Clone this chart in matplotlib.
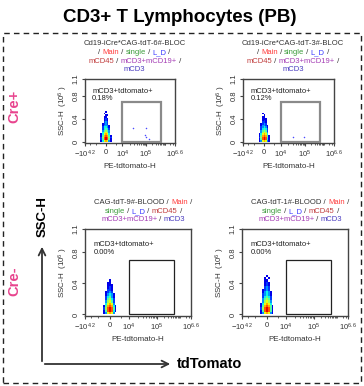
#CD3+ T lenfosit akim sitometrisi paneli (PB)
import numpy as np
import matplotlib
matplotlib.use("Agg")
import matplotlib.pyplot as plt
from matplotlib.patches import Rectangle, FancyArrowPatch
from matplotlib.offsetbox import TextArea, HPacker, VPacker, AnnotationBbox

plt.rcParams['font.family'] = ['Liberation Sans', 'DejaVu Sans']
plt.rcParams['mathtext.fontset'] = 'custom'
plt.rcParams['mathtext.rm'] = 'Liberation Sans'
plt.rcParams['mathtext.it'] = 'Liberation Sans:italic'

# data
x_ticks = [-10**4.2, 0, 1e4, 1e5, 10**6.6]
x_ticklabels = [r'$-10^{4.2}$', '0', r'$10^4$', r'$10^5$', r'$10^{6.6}$']
x_minor = [-1e4, -5e3, 5e3, 2e4, 3e4, 4e4, 5e4, 6e4, 7e4, 8e4, 9e4,
           2e5, 3e5, 4e5, 5e5, 6e5, 7e5, 8e5, 9e5, 1e6, 2e6, 3e6]
y_ticks = [0, 0.4, 0.8, 1.1]
y_ticklabels = ['0', '0.4', '0.8', '1.1']

gate_x = [1e4, 5.6e5]
gate_y = [0.005, 0.7]

samples = ['Cd19-iCre*CAG-tdT-6#-BLOC', 'Cd19-iCre*CAG-tdT-3#-BLOC',
           'CAG-tdT-9#-BLOOD', 'CAG-tdT-1#-BLOOD']
percent = ['0.18%', '0.12%', '0.00%', '0.00%']

# hucre yogunluklari (satirlar asagidan yukari, adim 0.03)
cloud_x_edges = [-2700, -1900, -1100, -350, 350, 1100, 1900, 2700]
cloud_y_edges = [0.00, 0.03, 0.06, 0.09, 0.12, 0.15, 0.18, 0.21, 0.24, 0.27,
                 0.30, 0.33, 0.36, 0.39, 0.42, 0.45, 0.48, 0.51, 0.54]
cloud_tl = [[1, 4, 7, 8, 7, 3, 1],
            [2, 5, 9, 10, 9, 5, 1],
            [2, 6, 9, 10, 9, 6, 2],
            [1, 5, 8, 9, 8, 5, 1],
            [1, 4, 7, 8, 7, 4, 0],
            [0, 4, 6, 7, 6, 3, 0],
            [0, 3, 5, 6, 5, 3, 0],
            [0, 2, 4, 5, 4, 2, 0],
            [0, 2, 4, 4, 3, 1, 0],
            [0, 1, 3, 3, 3, 1, 0],
            [0, 1, 2, 3, 2, 0, 0],
            [0, 0, 2, 3, 2, 0, 0],
            [0, 0, 1, 2, 1, 0, 0],
            [0, 0, 1, 2, 1, 0, 0],
            [0, 0, 1, 1, 0, 0, 0],
            [0, 0, 0, 1, 1, 0, 0],
            [0, 0, 1, 0, 0, 0, 0],
            [0, 0, 0, 1, 0, 0, 0]]
cloud_tr = [[1, 3, 7, 8, 7, 3, 1],
            [1, 5, 9, 10, 9, 4, 1],
            [2, 6, 9, 10, 9, 5, 1],
            [1, 5, 8, 9, 8, 5, 1],
            [1, 4, 7, 8, 7, 4, 0],
            [0, 3, 6, 7, 6, 3, 0],
            [0, 3, 5, 6, 5, 2, 0],
            [0, 2, 4, 5, 4, 2, 0],
            [0, 2, 3, 4, 3, 1, 0],
            [0, 1, 3, 3, 2, 1, 0],
            [0, 1, 2, 3, 2, 0, 0],
            [0, 0, 2, 2, 1, 0, 0],
            [0, 0, 1, 2, 1, 0, 0],
            [0, 0, 1, 1, 1, 0, 0],
            [0, 0, 1, 1, 0, 0, 0],
            [0, 0, 0, 1, 0, 0, 0],
            [0, 0, 1, 0, 0, 0, 0],
            [0, 0, 0, 0, 0, 0, 0]]
cloud_bl = [[1, 3, 7, 8, 7, 3, 0],
            [1, 5, 9, 10, 9, 4, 1],
            [2, 6, 9, 10, 9, 5, 1],
            [1, 5, 8, 9, 8, 4, 1],
            [0, 4, 7, 8, 7, 3, 0],
            [0, 3, 6, 7, 5, 2, 0],
            [0, 2, 5, 6, 4, 2, 0],
            [0, 2, 4, 5, 3, 1, 0],
            [0, 1, 3, 4, 3, 1, 0],
            [0, 1, 2, 3, 2, 0, 0],
            [0, 0, 2, 2, 1, 0, 0],
            [0, 0, 1, 2, 1, 0, 0],
            [0, 0, 1, 1, 1, 0, 0],
            [0, 0, 1, 1, 0, 0, 0],
            [0, 0, 0, 1, 0, 0, 0],
            [0, 0, 0, 0, 0, 0, 0],
            [0, 0, 0, 0, 0, 0, 0],
            [0, 0, 0, 0, 0, 0, 0]]
cloud_br = [[1, 3, 7, 8, 7, 3, 1],
            [1, 5, 9, 10, 9, 5, 1],
            [2, 6, 9, 10, 9, 5, 1],
            [1, 5, 8, 9, 8, 5, 1],
            [1, 4, 7, 8, 7, 4, 0],
            [0, 3, 6, 7, 6, 3, 0],
            [0, 3, 5, 6, 5, 2, 0],
            [0, 2, 4, 5, 4, 2, 0],
            [0, 2, 3, 4, 3, 1, 0],
            [0, 1, 3, 4, 3, 1, 0],
            [0, 1, 2, 3, 2, 0, 0],
            [0, 0, 2, 3, 2, 0, 0],
            [0, 0, 1, 2, 1, 0, 0],
            [0, 0, 1, 2, 1, 0, 0],
            [0, 0, 1, 1, 0, 0, 0],
            [0, 0, 1, 0, 1, 0, 0],
            [0, 0, 0, 1, 0, 0, 0],
            [0, 0, 0, 0, 0, 0, 0]]
clouds = [cloud_tl, cloud_tr, cloud_bl, cloud_br]

# kapi icindeki tek noktalar
gate_dots_x = [[2.8e4, 1.0e5, 9.0e4, 1.3e5, 1.0e5], [3.2e4, 9.5e4], [], []]
gate_dots_y = [[0.24, 0.24, 0.12, 0.05, 0.08], [0.08, 0.09], [], []]

# yol (gating path) renkleri
c_dark = '#333333'
c_main = '#ff3b3b'
c_single = '#3a9a3a'
c_ld = '#3a3aff'
c_cd45 = '#c03c3c'
c_cd19 = '#a43cb4'
c_cd3 = '#4a3cc0'

def path_top(name):
    return [[(name, c_dark)],
            [('/ ', c_dark), ('Main', c_main), (' / ', c_dark), ('single', c_single),
             (' / ', c_dark), ('L_D', c_ld), (' /', c_dark)],
            [('mCD45', c_cd45), (' / ', c_dark), ('mCD3+mCD19+', c_cd19), (' /', c_dark)],
            [('mCD3', c_cd3)]]

def path_bottom(name):
    return [[(name + ' / ', c_dark), ('Main', c_main), (' /', c_dark)],
            [('single', c_single), (' / ', c_dark), ('L_D', c_ld), (' / ', c_dark),
             ('mCD45', c_cd45), (' /', c_dark)],
            [('mCD3+mCD19+', c_cd19), (' / ', c_dark), ('mCD3', c_cd3)]]

# biex benzeri eksen
C_LIN = 6500.0
K_TOP = 14.6

def biex(x):
    u = np.arcsinh(np.asarray(x, dtype=float) / C_LIN)
    return u / (1 + np.abs(u) / K_TOP)

def biex_inv(y):
    y = np.clip(np.asarray(y, dtype=float), -K_TOP * 0.99, K_TOP * 0.99)
    u = y / (1 - np.abs(y) / K_TOP)
    return C_LIN * np.sinh(u)

W, H = 364.0, 386.0
fig = plt.figure(figsize=(W / 100, H / 100), dpi=100)

def fx(px):
    return px / W

def fy(py):
    return 1 - py / H

boxes = [(85, 79, 175, 143), (243, 79, 334, 143), (85, 229, 191, 316), (242, 229, 348, 316)]

for i in range(4):
    l, t, r, b = boxes[i]
    ax = fig.add_axes([fx(l), fy(b), (r - l) / W, (b - t) / H])
    ax.set_xscale('function', functions=(biex, biex_inv))
    ax.set_xlim(x_ticks[0], x_ticks[-1])
    ax.set_ylim(-0.02, 1.1)

    z = np.ma.masked_equal(np.array(clouds[i], dtype=float), 0)
    ax.pcolormesh(cloud_x_edges, cloud_y_edges, z, cmap='jet', vmin=0, vmax=11,
                  shading='flat', zorder=2)
    if len(gate_dots_x[i]) > 0:
        ax.scatter(gate_dots_x[i], gate_dots_y[i], s=1.2, color='#4a4aff', lw=0, zorder=3)

    if i < 2:
        gate_ec, gate_lw = '#8a8a8a', 1.6
    else:
        gate_ec, gate_lw = '#222222', 0.9
    ax.add_patch(Rectangle((gate_x[0], gate_y[0]), gate_x[1] - gate_x[0], gate_y[1] - gate_y[0],
                           fill=False, ec=gate_ec, lw=gate_lw, zorder=4))

    ax.text(0.08, 0.86, 'mCD3+tdtomato+\n' + percent[i], transform=ax.transAxes,
            fontsize=5.5, color='#222222', va='top', ha='left', linespacing=1.1)

    ax.set_xticks(x_ticks)
    ax.set_xticklabels(x_ticklabels)
    ax.set_xticks(x_minor, minor=True)
    ax.set_yticks(y_ticks)
    ax.set_yticklabels(y_ticklabels, rotation=90, va='center')
    ax.tick_params(axis='both', which='major', labelsize=5.5, length=2.5, width=0.8,
                   colors='#444444', labelcolor='#333333', pad=1.5)
    ax.tick_params(axis='both', which='minor', length=1.5, width=0.6, colors='#444444')
    ax.set_xlabel('PE-tdtomato-H', fontsize=5.8, color='#333333', labelpad=2)
    ax.set_ylabel(r'SSC-H  (10$^6$ )', fontsize=5.8, color='#333333', labelpad=2)
    for sp in ax.spines.values():
        sp.set_color('#444444')
        sp.set_linewidth(1.0)

    if i < 2:
        lines = path_top(samples[i])
    else:
        lines = path_bottom(samples[i])
    rows = []
    for line in lines:
        parts = [TextArea(s, textprops=dict(color=c, fontsize=5.5)) for s, c in line]
        rows.append(HPacker(children=parts, align='baseline', pad=0, sep=0))
    block = VPacker(children=rows, align='center', pad=0, sep=1.2)
    ab = AnnotationBbox(block, (0.55, 1.0), xycoords='axes fraction', box_alignment=(0.5, 0),
                        xybox=(0, 4), boxcoords='offset points', frameon=False, pad=0,
                        annotation_clip=False)
    ax.add_artist(ab)

# baslik ve cerceve
fig.text(fx(180), fy(17), 'CD3+ T Lymphocytes (PB)', fontsize=13.5, fontweight='bold',
         ha='center', va='center', color='black')
fig.add_artist(Rectangle((fx(3), fy(383)), (361 - 3) / W, (383 - 33) / H, transform=fig.transFigure,
                         fill=False, ec='#222222', lw=1.0, ls=(0, (4, 3))))

fig.text(fx(14), fy(106), 'Cre+', fontsize=10.5, fontweight='bold', color='#e8448e',
         rotation=90, ha='center', va='center')
fig.text(fx(14), fy(281), 'Cre-', fontsize=10.5, fontweight='bold', color='#e8448e',
         rotation=90, ha='center', va='center')

# eksen oklari
fig.add_artist(FancyArrowPatch((fx(42), fy(364)), (fx(42), fy(244)), transform=fig.transFigure,
                               arrowstyle='->', mutation_scale=12, lw=1.3, color='#333333'))
fig.add_artist(FancyArrowPatch((fx(42), fy(364)), (fx(173), fy(364)), transform=fig.transFigure,
                               arrowstyle='->', mutation_scale=12, lw=1.3, color='#333333'))
fig.text(fx(43), fy(217), 'SSC-H', fontsize=9.5, fontweight='bold', rotation=90,
         ha='center', va='center', color='black')
fig.text(fx(177), fy(364), 'tdTomato', fontsize=10.5, fontweight='bold',
         ha='left', va='center', color='black')

plt.savefig("out.png", dpi=100)
